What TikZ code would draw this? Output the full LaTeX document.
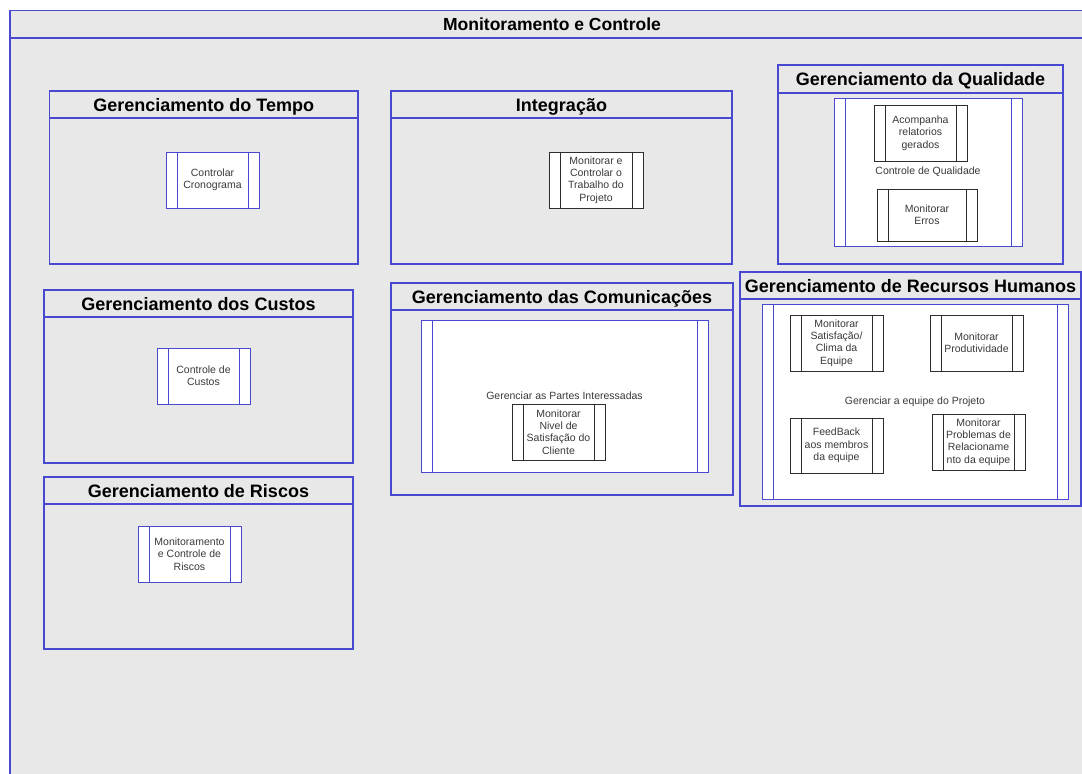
\documentclass[tikz,border=0pt]{standalone}
\usepackage{fontspec}
\setmainfont{Liberation Sans}
\definecolor{azul}{RGB}{72,72,208}
\definecolor{fundo}{RGB}{232,232,232}
\definecolor{textocinza}{RGB}{58,58,58}
\definecolor{bordapreta}{RGB}{45,45,45}
\tikzset{
  linha/.style={draw=azul,line width=1.2pt},
  titulo/.style={font=\bfseries\fontsize{18}{20}\selectfont,inner sep=0pt,anchor=base},
  proc/.style={draw=#1,fill=white,line width=1pt,inner sep=0pt,align=center,
    font=\fontsize{10.5}{12.3}\selectfont,text=textocinza,
    path picture={\draw[#1,line width=1pt]
      ([xshift=11pt]path picture bounding box.north west)--([xshift=11pt]path picture bounding box.south west)
      ([xshift=-11pt]path picture bounding box.north east)--([xshift=-11pt]path picture bounding box.south east);}},
  proc/.default=azul
}
\begin{document}
\begin{tikzpicture}[x=1pt,y=-1pt]
\useasboundingbox (0,0) rectangle (1082,774);
\clip (0,0) rectangle (1082,774);
\fill[white] (0,0) rectangle (1082,774);
% quadro geral
\draw[linha,fill=fundo] (10,10.5) rectangle (1095,800);
\draw[linha] (10,38) -- (1095,38);
\node[titulo,font=\bfseries\fontsize{17.5}{19}\selectfont] (monitoramento) at (552,30.5) {Monitoramento e Controle};
% areas
\foreach \xa/\ya/\yh/\xb/\yb/\nome/\txt in {
  49.5/91/118/358/264/tempo/Gerenciamento do Tempo,
  391/91/118/732/264/integracao/Integração,
  778/65/93/1063/264/qualidade/Gerenciamento da Qualidade,
  44/290/317/353/463/custos/Gerenciamento dos Custos,
  44/477/504/353/649/riscos/Gerenciamento de Riscos,
  391/283/310/733/495/comunicacoes/Gerenciamento das Comunicações,
  740/272/299/1081/506/rh/Gerenciamento de Recursos Humanos}{
  \draw[linha,fill=fundo] (\xa,\ya) rectangle (\xb,\yb);
  \draw[linha] (\xa,\yh) -- (\xb,\yh);
  \node[titulo] (\nome) at ({(\xa+\xb)/2},\ya+20.5) {\txt};
}
% processos
\node[proc,minimum width=93pt,minimum height=56pt] (cronograma) at (212.5,180) {Controlar\\Cronograma};
\node[proc,minimum width=93pt,minimum height=56pt] (ctrlcustos) at (203.5,376) {Controle de\\Custos};
\node[proc,minimum width=103pt,minimum height=56pt] (ctrlriscos) at (189.5,554) {Monitoramento\\e Controle de\\Riscos};
\node[proc=bordapreta,minimum width=94pt,minimum height=56pt] (trabalho) at (596,180) {Monitorar e\\Controlar o\\Trabalho do\\Projeto};
% qualidade
\node[proc,minimum width=188pt,minimum height=148pt] (ctrlqualidade) at (928,172) {Controle de Qualidade};
\node[proc=bordapreta,minimum width=93pt,minimum height=56pt] (relatorios) at (920.5,133) {Acompanha\\relatorios\\gerados};
\node[proc=bordapreta,minimum width=100pt,minimum height=52pt] (erros) at (927,215) {Monitorar\\Erros};
% comunicacoes
\node[proc,minimum width=287pt,minimum height=152pt] (partes) at (564.5,396) {Gerenciar as Partes Interessadas};
\node[proc=bordapreta,minimum width=93pt,minimum height=56pt] (cliente) at (558.5,432) {Monitorar\\Nivel de\\Satisfação do\\Cliente};
% recursos humanos
\node[proc,minimum width=306pt,minimum height=195pt] (equipe) at (915,401.5) {Gerenciar a equipe do Projeto};
\node[proc=bordapreta,minimum width=93pt,minimum height=56pt] (clima) at (836.5,343) {Monitorar\\Satisfação/\\Clima da\\Equipe};
\node[proc=bordapreta,minimum width=93pt,minimum height=56pt] (produtividade) at (976.5,343) {Monitorar\\Produtividade};
\node[proc=bordapreta,minimum width=93pt,minimum height=55pt] (feedback) at (836.5,445.5) {FeedBack\\aos membros\\da equipe};
\node[proc=bordapreta,minimum width=93pt,minimum height=56pt] (problemas) at (978.5,442) {Monitorar\\Problemas de\\Relacioname\\nto da equipe};
\end{tikzpicture}
\end{document}
